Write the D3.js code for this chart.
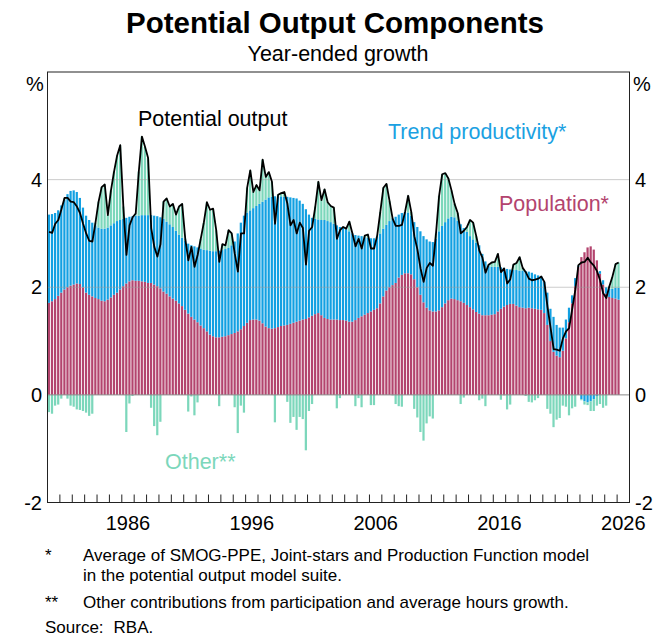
<!DOCTYPE html>
<html>
<head>
<meta charset="utf-8">
<script src="https://cdn.jsdelivr.net/npm/d3@7"></script>
<style>
  body { margin: 0; background: #fff; }
  svg text { font-family: "Liberation Sans", Arial, sans-serif; }
</style>
</head>
<body>
<div id="chart"></div>
<script>
// quarterly, year-ended growth, % -- first observation March quarter 1980
const startYear = 1980;

const population = [
  1.71,1.74,1.78,1.84,1.90,1.96,2.00,2.03,2.05,2.07, 2.06,2.00,1.90,1.86,1.83,1.80,1.78,1.75,1.74,1.77,
  1.81,1.86,1.90,1.96,2.02,2.07,2.11,2.13,2.12,2.12, 2.11,2.10,2.08,2.08,2.05,2.02,1.98,1.92,1.88,1.83,
  1.79,1.75,1.70,1.65,1.58,1.51,1.45,1.40,1.35,1.29, 1.24,1.18,1.12,1.09,1.07,1.07,1.08,1.09,1.11,1.13,
  1.15,1.18,1.22,1.28,1.34,1.39,1.40,1.40,1.38,1.33, 1.27,1.24,1.23,1.24,1.26,1.28,1.29,1.30,1.32,1.34,
  1.36,1.38,1.40,1.41,1.44,1.47,1.50,1.52,1.48,1.43, 1.41,1.40,1.40,1.40,1.39,1.39,1.38,1.36,1.36,1.39,
  1.43,1.46,1.49,1.52,1.55,1.58,1.61,1.70,1.83,1.94, 2.00,2.04,2.08,2.18,2.23,2.26,2.26,2.24,2.15,2.00,
  1.86,1.72,1.62,1.57,1.55,1.55,1.57,1.63,1.70,1.76, 1.79,1.78,1.76,1.74,1.71,1.67,1.63,1.59,1.54,1.51,
  1.48,1.48,1.48,1.49,1.50,1.55,1.60,1.64,1.67,1.69, 1.69,1.66,1.63,1.62,1.61,1.62,1.61,1.60,1.59,1.58,
  1.52,1.30,1.00,0.80,0.73,0.70,0.82,1.05,1.35,1.70, 2.02,2.38,2.56,2.65,2.74,2.76,2.70,2.50,2.25,2.05,
  1.88,1.82,1.80,1.79,1.77
];

const trendProductivity = [
  1.64,1.62,1.60,1.59,1.62,1.67,1.73,1.76,1.75,1.70, 1.60,1.48,1.43,1.39,1.37,1.35,1.33,1.34,1.35,1.34,
  1.34,1.33,1.33,1.29,1.25,1.22,1.20,1.19,1.21,1.21, 1.23,1.24,1.26,1.26,1.28,1.30,1.32,1.35,1.34,1.34,
  1.33,1.30,1.28,1.27,1.28,1.30,1.33,1.36,1.39,1.43, 1.46,1.51,1.56,1.58,1.60,1.61,1.61,1.62,1.62,1.65,
  1.70,1.82,1.98,2.05,2.05,2.04,2.07,2.11,2.17,2.26, 2.36,2.43,2.45,2.45,2.43,2.41,2.39,2.38,2.35,2.32,
  2.29,2.23,2.15,2.04,1.91,1.82,1.77,1.74,1.77,1.82, 1.82,1.81,1.78,1.75,1.73,1.73,1.70,1.68,1.64,1.58,
  1.53,1.49,1.44,1.40,1.36,1.33,1.33,1.30,1.26,1.22, 1.23,1.24,1.23,1.17,1.15,1.14,1.13,1.09,1.06,1.12,
  1.18,1.23,1.27,1.28,1.29,1.35,1.47,1.51,1.51,1.52, 1.52,1.52,1.48,1.43,1.39,1.36,1.32,1.30,1.29,1.27,
  1.14,1.00,0.92,0.89,0.88,0.83,0.77,0.72,0.67,0.64, 0.63,0.66,0.68,0.69,0.69,0.67,0.66,0.64,0.63,0.62,
  0.58,0.60,0.60,0.65,0.57,0.55,0.43,0.35,0.27,0.15, 0.15,0.02,-0.08,-0.12,-0.14,-0.12,-0.08,-0.02,0.05,0.08,
  0.12,0.15,0.17,0.20,0.22
];

const potentialOutput = [
  3.03,3.01,3.18,3.25,3.45,3.66,3.66,3.59,3.58,3.50, 3.38,3.18,3.00,2.86,2.85,3.20,3.59,3.86,3.91,3.34,
  3.80,4.15,4.45,4.64,3.50,2.60,3.15,3.30,3.37,4.15, 4.80,4.61,4.40,3.10,2.75,2.57,2.80,3.59,3.65,3.50,
  3.55,3.35,3.50,3.55,2.90,2.50,2.75,2.38,2.60,2.90, 3.20,3.58,3.44,3.46,3.06,2.47,2.80,2.78,3.06,3.00,
  2.62,2.29,3.00,3.00,3.85,4.17,3.77,3.90,3.80,4.37, 4.05,4.14,3.96,3.18,3.72,3.75,3.77,3.55,3.15,3.25,
  3.00,3.20,3.10,2.42,3.05,3.12,3.50,3.96,3.62,3.82, 3.58,3.51,3.48,2.90,3.06,3.12,3.09,3.22,3.00,2.76,
  2.90,2.72,2.96,2.98,2.72,2.72,2.96,3.40,3.85,3.92, 3.60,3.27,3.14,3.14,3.16,3.40,3.70,3.40,2.95,2.70,
  2.35,2.10,2.36,2.45,2.40,3.00,3.70,4.10,4.12,4.02, 3.80,3.55,3.38,3.00,3.05,3.12,3.25,3.20,2.95,2.68,
  2.55,2.27,2.42,2.46,2.47,2.62,2.28,2.35,2.07,2.15, 2.42,2.45,2.56,2.36,2.28,2.16,2.13,2.14,2.16,2.20,
  2.10,1.64,1.25,0.85,0.84,0.82,1.05,1.18,1.24,1.60, 1.95,2.41,2.46,2.47,2.55,2.46,2.40,2.30,2.13,1.89,
  1.80,2.02,2.20,2.43,2.46
];

const yTicks = [-2, 0, 2, 4];
const yearLabels = [1986, 1996, 2006, 2016, 2026];
const gridValues = [2, 4];

const colours = { population: "#b3446e", trend: "#12a0e2", other: "#7cd7bb" };

const width = 669, height = 639;
const plotLeft = 47.5, plotRight = 629.5, plotTop = 72, plotBottom = 502.5;

const svg = d3.select("#chart").append("svg").attr("width", width).attr("height", height);
svg.append("rect").attr("width", width).attr("height", height).attr("fill", "#fff");

const x = d3.scaleLinear().domain([1980, 2027]).range([plotLeft, plotRight]);
const y = d3.scaleLinear().domain([-2, 6]).range([plotBottom, plotTop]);

const rows = population.map((p, i) => ({
    t: startYear + i / 4,
    population: p,
    trend: trendProductivity[i],
    other: potentialOutput[i] - p - trendProductivity[i],
    potential: potentialOutput[i]
}));

const series = d3.stack()
    .keys(["population", "trend", "other"])
    .offset(d3.stackOffsetDiverging)(rows);

const qw = x(startYear + 0.25) - x(startYear);
const bw = qw * 0.72;

svg.append("g").selectAll("g")
    .data(series)
    .join("g")
    .attr("fill", s => colours[s.key])
    .selectAll("rect")
    .data(s => s)
    .join("rect")
    .attr("x", d => x(d.data.t) + 0.3)
    .attr("width", bw)
    .attr("y", d => y(Math.max(d[0], d[1])))
    .attr("height", d => Math.abs(y(d[0]) - y(d[1])));

// grid on top of bars, light
svg.append("g").selectAll("line")
    .data(gridValues)
    .join("line")
    .attr("x1", plotLeft).attr("x2", plotRight)
    .attr("y1", d => y(d)).attr("y2", d => y(d))
    .attr("stroke", "#9a9a9a").attr("stroke-opacity", 0.5).attr("stroke-width", 1);

svg.append("line")
    .attr("x1", plotLeft).attr("x2", plotRight)
    .attr("y1", y(0)).attr("y2", y(0))
    .attr("stroke", "#888").attr("stroke-width", 1);

svg.append("path")
    .datum(rows)
    .attr("fill", "none")
    .attr("stroke", "#000")
    .attr("stroke-width", 1.8)
    .attr("stroke-linejoin", "round")
    .attr("d", d3.line()
        .x(d => x(d.t) + qw / 2)
        .y(d => y(d.potential))
    );

// frame
svg.append("rect")
    .attr("x", plotLeft).attr("y", plotTop)
    .attr("width", plotRight - plotLeft).attr("height", plotBottom - plotTop)
    .attr("fill", "none").attr("stroke", "#222").attr("stroke-width", 1);

// year ticks, pointing up into the plot
svg.append("g").selectAll("line")
    .data(d3.range(1981, 2027))
    .join("line")
    .attr("x1", d => x(d)).attr("x2", d => x(d))
    .attr("y1", plotBottom).attr("y2", plotBottom - 8)
    .attr("stroke", "#222").attr("stroke-width", 1);

svg.append("g").selectAll("text")
    .data(yearLabels)
    .join("text")
    .attr("x", d => x(d + 0.5))
    .attr("y", 530)
    .attr("text-anchor", "middle")
    .attr("font-size", 20)
    .text(d => d);

svg.append("g").selectAll("text")
    .data(yTicks)
    .join("text")
    .attr("x", 42)
    .attr("y", d => y(d) + 7)
    .attr("text-anchor", "end")
    .attr("font-size", 20)
    .text(d => d);

svg.append("g").selectAll("text")
    .data(yTicks)
    .join("text")
    .attr("x", 635)
    .attr("y", d => y(d) + 7)
    .attr("text-anchor", "start")
    .attr("font-size", 20)
    .text(d => d);

svg.append("text").attr("x", 35).attr("y", 91).attr("text-anchor", "middle").attr("font-size", 20).text("%");
svg.append("text").attr("x", 642).attr("y", 91).attr("text-anchor", "middle").attr("font-size", 20).text("%");

svg.append("text").attr("x", 335).attr("y", 33).attr("text-anchor", "middle")
    .attr("font-size", 29.5).attr("font-weight", "bold").text("Potential Output Components");
svg.append("text").attr("x", 338).attr("y", 61).attr("text-anchor", "middle")
    .attr("font-size", 21.5).text("Year-ended growth");

const labels = [
    { text: "Potential output", x: 138, y: 126, fill: "#000" },
    { text: "Trend productivity*", x: 388, y: 139, fill: "#1ba1e2" },
    { text: "Population*", x: 499, y: 211, fill: "#b3446e" },
    { text: "Other**", x: 165, y: 469, fill: "#7cd7bb" }
];
svg.append("g").selectAll("text")
    .data(labels)
    .join("text")
    .attr("x", d => d.x).attr("y", d => d.y)
    .attr("fill", d => d.fill)
    .attr("font-size", 21.5)
    .text(d => d.text);

const notes = [
    { a: "*", b: "Average of SMOG-PPE, Joint-stars and Production Function model", y: 561 },
    { a: "", b: "in the potential output model suite.", y: 581 },
    { a: "**", b: "Other contributions from participation and average hours growth.", y: 608 }
];
const noteG = svg.append("g").attr("font-size", 17);
noteG.selectAll("text.a").data(notes).join("text").attr("class", "a")
    .attr("x", 45).attr("y", d => d.y).text(d => d.a);
noteG.selectAll("text.b").data(notes).join("text").attr("class", "b")
    .attr("x", 83).attr("y", d => d.y).text(d => d.b);

const source = noteG.append("text").attr("x", 45).attr("y", 633).text("Source:");
const sw = source.node().getComputedTextLength();
noteG.append("text").attr("x", 45 + sw + 10).attr("y", 633).text("RBA.");
</script>
</body>
</html>
